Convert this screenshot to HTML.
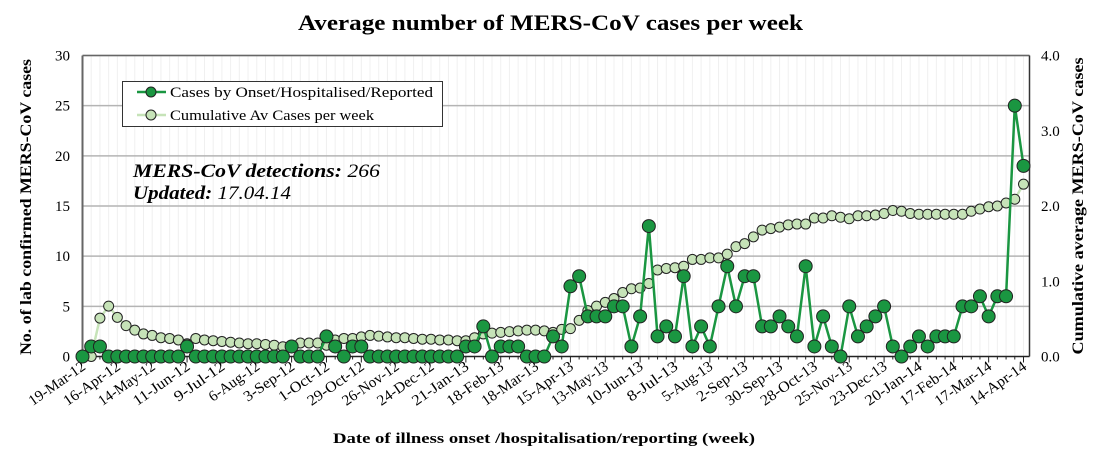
<!DOCTYPE html>
<html><head><meta charset="utf-8"><style>
body{margin:0;background:#fff;}
svg{display:block;font-family:"Liberation Serif",serif;}
</style></head><body>
<svg id="chart" width="1100" height="467">
<text x="298" y="30" textLength="505" lengthAdjust="spacingAndGlyphs" font-size="22" font-weight="bold">Average number of MERS-CoV cases per week</text>
<g id="grid"></g>
<g id="axes"></g>
<g id="series"></g>
<g>
<rect x="122.5" y="81.5" width="320" height="45" fill="#fff" stroke="#333" stroke-width="1"/>
<line x1="137" y1="92" x2="166" y2="92" stroke="#1a9641" stroke-width="2.5"/>
<circle cx="151" cy="92" r="5" fill="#1a9641" stroke="#222"/>
<text x="170" y="97" textLength="263" lengthAdjust="spacingAndGlyphs" font-size="15">Cases by Onset/Hospitalised/Reported</text>
<line x1="137" y1="115" x2="166" y2="115" stroke="#c6e3b8" stroke-width="2.5"/>
<circle cx="151" cy="115" r="5" fill="#c6e3b8" stroke="#222"/>
<text x="170" y="120" textLength="204" lengthAdjust="spacingAndGlyphs" font-size="15">Cumulative Av Cases per week</text>
</g>
<text x="133" y="177" textLength="247" lengthAdjust="spacingAndGlyphs" font-size="19" font-style="italic"><tspan font-weight="bold">MERS-CoV detections:</tspan> 266</text>
<text x="133" y="199" textLength="158" lengthAdjust="spacingAndGlyphs" font-size="19" font-style="italic"><tspan font-weight="bold">Updated:</tspan> 17.04.14</text>
<text transform="translate(31,207) rotate(-90)" text-anchor="middle" textLength="296" lengthAdjust="spacingAndGlyphs" font-size="16" font-weight="bold">No. of lab confirmed MERS-CoV cases</text>
<text transform="translate(1083,206) rotate(-90)" text-anchor="middle" textLength="297" lengthAdjust="spacingAndGlyphs" font-size="16" font-weight="bold">Cumulative average MERS-CoV cases</text>
<text x="333" y="443" textLength="422" lengthAdjust="spacingAndGlyphs" font-size="15" font-weight="bold">Date of illness onset /hospitalisation/reporting (week)</text>
</svg>
<script>
const cases=[0,1,1,0,0,0,0,0,0,0,0,0,1,0,0,0,0,0,0,0,0,0,0,0,1,0,0,0,2,1,0,1,1,0,0,0,0,0,0,0,0,0,0,0,1,1,3,0,1,1,1,0,0,0,2,1,7,8,4,4,4,5,5,1,4,13,2,3,2,8,1,3,1,5,9,5,8,8,3,3,4,3,2,9,1,4,1,0,5,2,3,4,5,1,0,1,2,1,2,2,2,5,5,6,4,6,6,25,19];
const cumAvg=[0,0,0.51,0.67,0.52,0.41,0.35,0.3,0.28,0.25,0.24,0.22,0.17,0.24,0.22,0.21,0.2,0.19,0.18,0.17,0.17,0.16,0.15,0.13,0.15,0.18,0.18,0.18,0.15,0.22,0.24,0.24,0.26,0.28,0.27,0.26,0.25,0.25,0.24,0.23,0.23,0.22,0.22,0.21,0.21,0.25,0.3,0.31,0.32,0.33,0.34,0.35,0.35,0.34,0.32,0.36,0.37,0.48,0.61,0.67,0.72,0.77,0.85,0.9,0.91,0.97,1.15,1.17,1.18,1.2,1.29,1.29,1.31,1.31,1.36,1.46,1.5,1.59,1.68,1.7,1.72,1.75,1.76,1.76,1.84,1.84,1.87,1.85,1.83,1.87,1.87,1.88,1.9,1.94,1.93,1.9,1.89,1.89,1.89,1.89,1.89,1.89,1.93,1.96,1.99,2.0,2.04,2.09,2.29];
const xLabels=["19-Mar-12","16-Apr-12","14-May-12","11-Jun-12","9-Jul-12","6-Aug-12","3-Sep-12","1-Oct-12","29-Oct-12","26-Nov-12","24-Dec-12","21-Jan-13","18-Feb-13","18-Mar-13","15-Apr-13","13-May-13","10-Jun-13","8-Jul-13","5-Aug-13","2-Sep-13","30-Sep-13","28-Oct-13","25-Nov-13","23-Dec-13","20-Jan-14","17-Feb-14","17-Mar-14","14-Apr-14"];
const yTicks=[0,5,10,15,20,25,30];
const y2Ticks=["0.0","1.0","2.0","3.0","4.0"];
const X0=82.5,X1=1023.5,XR=1029.5,YT=55.5,YB=356.5,N=cases.length;
const NS="http://www.w3.org/2000/svg";
const xs=i=>X0+(X1-X0)*i/(N-1);
const ys=v=>YB-(YB-YT)*v/30;
const y2s=v=>YB-(YB-YT)*v/4;
function mk(p,tag,a){const e=document.createElementNS(NS,tag);for(const k in a)e.setAttribute(k,a[k]);p.appendChild(e);return e;}
const grid=document.getElementById('grid'),axes=document.getElementById('axes'),ser=document.getElementById('series');
for(let i=0;i<N;i++){const l=mk(grid,'line',{x1:xs(i),x2:xs(i),y1:YT,y2:YB,stroke:'#f0f0f0','stroke-width':1});

}
yTicks.forEach(v=>{if(v>0){const g=mk(grid,'line',{x1:X0,x2:XR,y1:ys(v),y2:ys(v),stroke:'#b4b4b4','stroke-width':1.5});

}
const t=mk(axes,'text',{x:70,y:ys(v)+5,'text-anchor':'end','font-size':15});t.textContent=v;

});
y2Ticks.forEach(s=>{const t=mk(axes,'text',{x:1041,y:y2s(parseFloat(s))+5,'font-size':15});t.textContent=s;

});
mk(axes,'line',{x1:X0,x2:X0,y1:YT,y2:YB,stroke:'#666','stroke-width':2});
mk(axes,'line',{x1:X0,x2:XR,y1:YT,y2:YT,stroke:'#666','stroke-width':1.5});
mk(axes,'line',{x1:XR,x2:XR,y1:YT,y2:YB,stroke:'#333','stroke-width':1.5});
mk(axes,'line',{x1:X0,x2:XR,y1:YB,y2:YB,stroke:'#222','stroke-width':1.5});
for(let i=0;i<N;i++){mk(axes,'line',{x1:xs(i),x2:xs(i),y1:YB,y2:YB+(i%4==0?6:3),stroke:'#222'});}
xLabels.forEach((s,k)=>{const x=xs(k*4);const t=mk(axes,'text',{transform:`translate(${x+4},${YB+12}) rotate(-35)`,'text-anchor':'end','font-size':15,textLength:s.length*7.3,lengthAdjust:'spacingAndGlyphs'});t.textContent=s;

});
const p2=mk(ser,'polyline',{points:cumAvg.map((v,i)=>xs(i)+','+y2s(v)).join(' '),fill:'none',stroke:'#c6e3b8','stroke-width':2.5});


cumAvg.forEach((v,i)=>{const c=mk(ser,'circle',{cx:xs(i),cy:y2s(v),r:5,fill:'#c6e3b8',stroke:'#222','stroke-width':1});

});
const p1=mk(ser,'polyline',{points:cases.map((v,i)=>xs(i)+','+ys(v)).join(' '),fill:'none',stroke:'#1a9641','stroke-width':2.5});


cases.forEach((v,i)=>{const c=mk(ser,'circle',{cx:xs(i),cy:ys(v),r:6.5,fill:'#1a9641',stroke:'#222','stroke-width':1});

});
</script>
</body></html>
